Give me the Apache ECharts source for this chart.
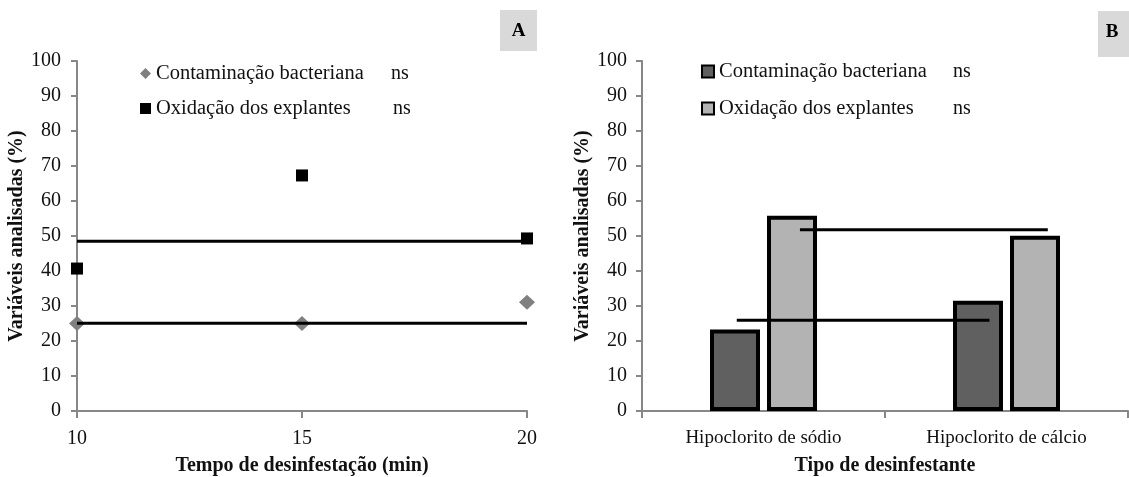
<!DOCTYPE html>
<html><head><meta charset="utf-8">
<script src="https://cdn.jsdelivr.net/npm/echarts@6/dist/echarts.min.js"></script>
<style>html,body{margin:0;padding:0;background:#fff}#c{width:1129px;height:477px}</style>
</head><body><div id="c"></div><script>
// ---- Data ----
const serieNames = ['Contaminação bacteriana', 'Oxidação dos explantes'];
const signif = ['ns', 'ns'];
// Panel A
const temposA = [10, 15, 20];
const contaminacaoA = [25, 25, 31.1];
const oxidacaoA = [40.7, 67.3, 49.3];
const mediaContaminacaoA = 25.1;
const mediaOxidacaoA = 48.5;
// Panel B
const tiposB = ['Hipoclorito de sódio', 'Hipoclorito de cálcio'];
const contaminacaoB = [23.3, 31.5];
const oxidacaoB = [55.8, 50.1];
const mediaContaminacaoB = 25.9;
const extentContaminacaoB = [0.39, 1.43];   // along the category axis (0..2)
const mediaOxidacaoB = 51.8;
const extentOxidacaoB = [0.65, 1.67];
const panelLabels = ['A', 'B'];

const FF = "'Liberation Serif', 'Times New Roman', serif";
const TXT = '#111';
const AX = '#878787';

function legend(left, top, name, icon, style, w, h, nsWidth) {
  return {
    left, top, orient: 'vertical', padding: 0, itemWidth: w, itemHeight: h,
    selectedMode: false,
    data: [{ name, icon, itemStyle: style }],
    formatter: n => '{a|' + n + '}{b|' + signif[serieNames.indexOf(n)] + '}',
    textStyle: {
      fontFamily: FF, fontSize: 20.5, color: TXT, lineHeight: 20,
      rich: {
        a: { width: nsWidth, fontFamily: FF, fontSize: 20.5, color: TXT, lineHeight: 20 },
        b: { fontFamily: FF, fontSize: 20, color: TXT, lineHeight: 20 }
      }
    }
  };
}

const yAxisCommon = {
  type: 'value', min: 0, max: 100, interval: 10,
  name: 'Variáveis analisadas (%)', nameLocation: 'middle',
  nameTextStyle: { fontFamily: FF, fontSize: 20, fontWeight: 'bold', color: TXT },
  axisLine: { show: true, lineStyle: { color: AX, width: 2 } },
  axisTick: { show: true, length: 6, lineStyle: { color: AX, width: 2 } },
  splitLine: { show: false },
  axisLabel: { fontFamily: FF, fontSize: 20, color: TXT }
};

const option = {
  animation: false,
  backgroundColor: '#fff',
  grid: [
    { left: 77, top: 61, width: 450, height: 350, outerBoundsMode: 'none', containLabel: false },
    { left: 642, top: 61, width: 486, height: 350, outerBoundsMode: 'none', containLabel: false }
  ],
  legend: [
    legend(140, 63, serieNames[0], 'diamond', { color: '#808080' }, 11, 11, 235),
    legend(140, 98, serieNames[1], 'rect', { color: '#000' }, 11, 11, 237),
    legend(701, 61, serieNames[0], 'rect', { color: '#606060', borderColor: '#000', borderWidth: 2 }, 12, 12, 234),
    legend(701, 98, serieNames[1], 'rect', { color: '#b3b3b3', borderColor: '#000', borderWidth: 2 }, 12, 12, 234)
  ],
  xAxis: [
    {
      gridIndex: 0, type: 'value', min: 10, max: 20, interval: 5,
      name: 'Tempo de desinfestação (min)', nameLocation: 'middle', nameGap: 45,
      nameTextStyle: { fontFamily: FF, fontSize: 20, fontWeight: 'bold', color: TXT },
      axisLine: { show: true, onZero: false, lineStyle: { color: AX, width: 2 } },
      axisTick: { show: true, length: 7, lineStyle: { color: AX, width: 2 } },
      splitLine: { show: false },
      axisLabel: { fontFamily: FF, fontSize: 20, color: TXT, margin: 18 }
    },
    {
      gridIndex: 1, type: 'category', data: tiposB,
      name: 'Tipo de desinfestante', nameLocation: 'middle', nameGap: 45,
      nameTextStyle: { fontFamily: FF, fontSize: 20, fontWeight: 'bold', color: TXT },
      axisLine: { show: true, lineStyle: { color: AX, width: 2 } },
      axisTick: { show: true, length: 7, lineStyle: { color: AX, width: 2 } },
      axisLabel: { fontFamily: FF, fontSize: 19, color: TXT, margin: 18 }
    },
    { gridIndex: 1, type: 'value', min: 0, max: 2, show: false }
  ],
  yAxis: [
    Object.assign({}, yAxisCommon, { gridIndex: 0, nameGap: 46, axisLabel: Object.assign({}, yAxisCommon.axisLabel, { margin: 16 }) }),
    Object.assign({}, yAxisCommon, { gridIndex: 1, nameGap: 47, axisLabel: Object.assign({}, yAxisCommon.axisLabel, { margin: 15 }) })
  ],
  series: [
    {
      name: serieNames[0], type: 'scatter', xAxisIndex: 0, yAxisIndex: 0, clip: false,
      symbol: 'diamond', symbolSize: [16, 15], itemStyle: { color: '#808080', opacity: 1 }, z: 2,
      data: temposA.map((t, i) => [t, contaminacaoA[i]])
    },
    {
      name: serieNames[1], type: 'scatter', xAxisIndex: 0, yAxisIndex: 0, clip: false,
      symbol: 'rect', symbolSize: 12, itemStyle: { color: '#000', opacity: 1 }, z: 2,
      data: temposA.map((t, i) => [t, oxidacaoA[i]])
    },
    {
      type: 'line', xAxisIndex: 0, yAxisIndex: 0, symbol: 'none', clip: false, z: 3,
      lineStyle: { color: '#000', width: 3 },
      data: [[temposA[0], mediaContaminacaoA], [temposA[temposA.length - 1], mediaContaminacaoA]]
    },
    {
      type: 'line', xAxisIndex: 0, yAxisIndex: 0, symbol: 'none', clip: false, z: 3,
      lineStyle: { color: '#000', width: 3 },
      data: [[temposA[0], mediaOxidacaoA], [temposA[temposA.length - 1], mediaOxidacaoA]]
    },
    {
      name: serieNames[0], type: 'bar', xAxisIndex: 1, yAxisIndex: 1,
      barWidth: 50, barGap: '14%',
      itemStyle: { color: '#606060', borderColor: '#000', borderWidth: 4 },
      data: contaminacaoB
    },
    {
      name: serieNames[1], type: 'bar', xAxisIndex: 1, yAxisIndex: 1,
      barWidth: 50, barGap: '14%',
      itemStyle: { color: '#b3b3b3', borderColor: '#000', borderWidth: 4 },
      data: oxidacaoB
    },
    {
      type: 'line', xAxisIndex: 2, yAxisIndex: 1, symbol: 'none', z: 5,
      lineStyle: { color: '#000', width: 3 },
      data: extentContaminacaoB.map(x => [x, mediaContaminacaoB])
    },
    {
      type: 'line', xAxisIndex: 2, yAxisIndex: 1, symbol: 'none', z: 5,
      lineStyle: { color: '#000', width: 3 },
      data: extentOxidacaoB.map(x => [x, mediaOxidacaoB])
    }
  ],
  graphic: [
    { type: 'rect', shape: { x: 500, y: 10, width: 37, height: 41 }, style: { fill: '#d9d9d9' } },
    { type: 'text', x: 518.5, y: 31, style: { text: panelLabels[0], fontFamily: FF, fontSize: 19, fontWeight: 'bold', fill: '#000', align: 'center', verticalAlign: 'middle' } },
    { type: 'rect', shape: { x: 1098, y: 11, width: 40, height: 46 }, style: { fill: '#d9d9d9' } },
    { type: 'text', x: 1112, y: 32, style: { text: panelLabels[1], fontFamily: FF, fontSize: 19, fontWeight: 'bold', fill: '#000', align: 'center', verticalAlign: 'middle' } }
  ]
};
const chart = echarts.init(document.getElementById('c'), null, { renderer: 'canvas' });
chart.setOption(option);
</script></body></html>
